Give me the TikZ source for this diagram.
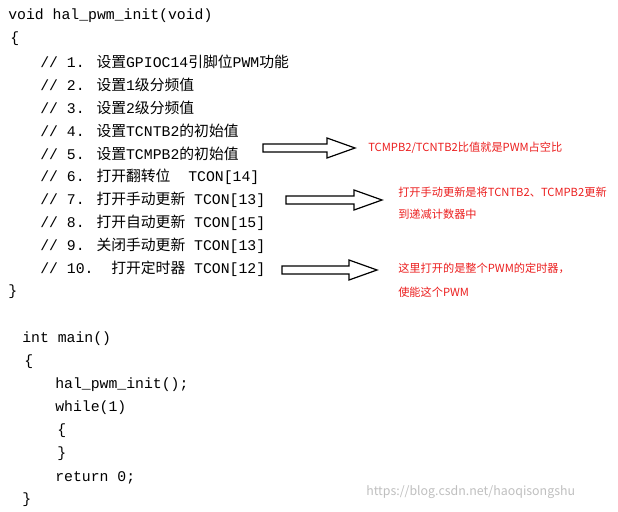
\documentclass[tikz,border=0pt]{standalone}
\usepackage{fontspec}
\setmainfont{Liberation Mono}
\newfontfamily\cjk{Noto Sans CJK SC}
\newfontfamily\rsans{Noto Sans CJK SC}
\newcommand{\cn}[1]{{\cjk #1}}
\definecolor{redtxt}{RGB}{235,30,30}
\newcommand{\hollowarrow}[3]{% x0, x1, y
  \draw[line width=0.9pt,line join=miter,fill=white] (#1,#3-4) -- (#2-28,#3-4) -- (#2-28,#3-10) -- (#2,#3) -- (#2-28,#3+10) -- (#2-28,#3+4) -- (#1,#3+4) -- cycle;}
\begin{document}
\begin{tikzpicture}[x=0.75pt,y=-0.75pt,
  code/.style={anchor=west,inner sep=0pt,font=\fontsize{11.1}{13}\selectfont},
  note/.style={anchor=west,inner sep=0pt,text=redtxt,font=\rsans\fontsize{8.4}{10}\selectfont}]
\useasboundingbox (0,0) rectangle (618,511);
\node[code] (l1) at (8,16) {void hal\_pwm\_init(void)};
\node[code] (l2) at (10,39) {\{};
\node[code] (c1) at (40,62) {// 1. \cn{设置}GPIOC14\cn{引脚位}PWM\cn{功能}};
\node[code] (c2) at (40,85) {// 2. \cn{设置}1\cn{级分频值}};
\node[code] (c3) at (40,108) {// 3. \cn{设置}2\cn{级分频值}};
\node[code] (c4) at (40,131) {// 4. \cn{设置}TCNTB2\cn{的初始值}};
\node[code] (c5) at (40,154) {// 5. \cn{设置}TCMPB2\cn{的初始值}};
\node[code] (c6) at (40,177) {// 6. \cn{打开翻转位}\ \ TCON[14]};
\node[code] (c7) at (40,200) {// 7. \cn{打开手动更新} TCON[13]};
\node[code] (c8) at (40,223) {// 8. \cn{打开自动更新} TCON[15]};
\node[code] (c9) at (40,246) {// 9. \cn{关闭手动更新} TCON[13]};
\node[code] (c10) at (40,269) {// 10.\ \ \cn{打开定时器} TCON[12]};
\node[code] (l3) at (8,292) {\}};
\node[code] (m1) at (22,339) {int main()};
\node[code] (m2) at (24,362) {\{};
\node[code] (m3) at (55,385) {hal\_pwm\_init();};
\node[code] (m4) at (55,408) {while(1)};
\node[code] (m5) at (57,431) {\{};
\node[code] (m6) at (57,454) {\}};
\node[code] (m7) at (55,478) {return 0;};
\node[code] (m8) at (22,500) {\}};
\hollowarrow{263}{355}{148}
\hollowarrow{286}{382}{200}
\hollowarrow{282}{377}{270}
\node[note] (n1) at (368,148) {TCMPB2/TCNTB2比值就是PWM占空比};
\node[note] (n2) at (398,192) {打开手动更新是将TCNTB2、TCMPB2更新};
\node[note] (n2b) at (398,214) {到递减计数器中};
\node[note] (n3) at (398,268) {这里打开的是整个PWM的定时器，};
\node[note] (n3b) at (398,292) {使能这个PWM};
\node[anchor=west,inner sep=0pt,text=black!25,font=\rsans\fontsize{9.3}{10}\selectfont] (w) at (366,492) {https://blog.csdn.net/haoqisongshu};
\end{tikzpicture}
\end{document}
